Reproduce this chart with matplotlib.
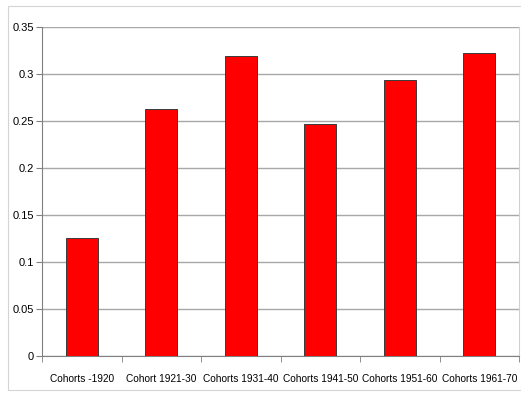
import matplotlib.pyplot as plt
import numpy as np
from matplotlib.patches import Rectangle

plt.rcParams['font.family'] = ['Liberation Sans', 'DejaVu Sans']

cohorts = ['Cohorts -1920', 'Cohort 1921-30', 'Cohorts 1931-40',
           'Cohorts 1941-50', 'Cohorts 1951-60', 'Cohorts 1961-70']
values = [0.126, 0.263, 0.320, 0.247, 0.294, 0.323]
ytick_labels = ['0', '0.05', '0.1', '0.15', '0.2', '0.25', '0.3', '0.35']

fig = plt.figure(figsize=(5.21, 3.94), dpi=100)
# faint chart-area border
fig.patches.append(Rectangle((8/521, 4/394), 1.0, 384/394, transform=fig.transFigure,
                             fill=False, edgecolor='#d4d4d4', linewidth=0.8))
ax = fig.add_axes([42/521, 37.7/394, 477/521, 329/394])

x = np.arange(len(cohorts))
ax.bar(x, values, width=0.4, color='#ff0000', edgecolor='#3a3a3a', linewidth=0.7, zorder=3)

ax.set_xlim(-0.5, len(cohorts) - 0.5)
ax.set_ylim(0, 0.35)
ax.set_yticks(np.arange(0, 0.351, 0.05))
ax.set_yticklabels(ytick_labels, fontsize=8)
ax.yaxis.grid(True, color='#a8a8a8', linewidth=1, zorder=0)

ax.set_xticks(x)
ax.set_xticklabels(cohorts, fontsize=7.3)
ax.set_xticks(np.arange(-0.5, len(cohorts)), minor=True)
ax.tick_params(axis='x', which='major', length=0, pad=13)
ax.tick_params(axis='x', which='minor', length=4, color='#808080')
ax.tick_params(axis='y', length=4, color='#808080', pad=2)

ax.spines['top'].set_visible(False)
ax.spines['right'].set_color('#d0d0d0')
ax.spines['left'].set_color('#808080')
ax.spines['bottom'].set_color('#808080')

fig.savefig('out.png', dpi=100)
